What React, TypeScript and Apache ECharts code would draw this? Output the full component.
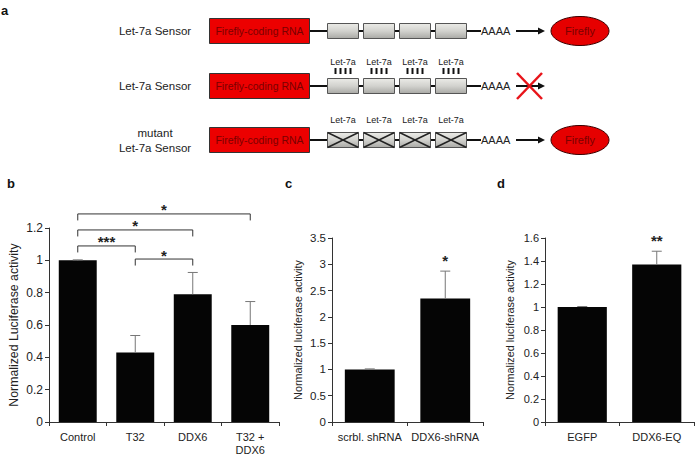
import React, { useEffect, useRef } from "react";
import * as echarts from "echarts";

// ---------- data ----------
const catsB = ["Control", "T32", "DDX6", "T32 +\nDDX6"];
const valsB = [1.0, 0.43, 0.79, 0.6];
const errsB = [0.003, 0.105, 0.135, 0.145];
const sigPairsB = [
  [0, 3],
  [0, 2],
  [0, 1],
  [1, 2],
];
const sigLevelsB = [1.287, 1.188, 1.089, 1.008];
const sigLabelsB = ["*", "*", "***", "*"];

const catsC = ["scrbl. shRNA", "DDX6-shRNA"];
const valsC = [1.0, 2.35];
const errsC = [0.01, 0.52];
const sigC = ["", "*"];

const catsD = ["EGFP", "DDX6-EQ"];
const valsD = [1.0, 1.37];
const errsD = [0.004, 0.115];
const sigD = ["", "**"];

const rowLabels = ["Let-7a Sensor", "Let-7a Sensor", "mutant\nLet-7a Sensor"];
const codingLabel = "Firefly-coding RNA";
const siteLabel = "Let-7a";
const polyA = "AAAA";
const productLabel = "Firefly";
const panelLetters = ["a", "b", "c", "d"];

const FONT = "'Liberation Sans', Arial, sans-serif";

function yAx(gridIndex: number, max: number, interval: number, name: string, nameGap: number, fontSize: number, nameSize: number) {
  return {
    type: "value",
    gridIndex,
    min: 0,
    max,
    interval,
    name,
    nameLocation: "middle",
    nameRotate: 90,
    nameGap,
    nameTextStyle: { fontFamily: FONT, fontSize: nameSize, color: "#222" },
    axisLine: { show: true, lineStyle: { color: "#333", width: 1 } },
    axisTick: { show: true, length: 4, lineStyle: { color: "#333" } },
    axisLabel: { fontFamily: FONT, fontSize, color: "#222", margin: 6 },
    splitLine: { show: false },
  };
}

function xAx(gridIndex: number, data: string[], fontSize: number) {
  return {
    type: "category",
    gridIndex,
    data,
    axisLine: { show: true, lineStyle: { color: "#333", width: 1 } },
    axisTick: { show: true, length: 4, lineStyle: { color: "#333" } },
    axisLabel: { fontFamily: FONT, fontSize, color: "#222", margin: 8, lineHeight: 13, interval: 0 },
    splitLine: { show: false },
  };
}

function errSeries(idx: number, vals: number[], errs: number[], sigs: string[], sigSize: number) {
  return {
    type: "custom",
    xAxisIndex: idx,
    yAxisIndex: idx,
    clip: false,
    z: 5,
    data: vals.map((v, i) => [i, v, errs[i]]),
    renderItem: (params: any, api: any) => {
      const i = api.value(0);
      const v = api.value(1);
      const e = api.value(2);
      const base = api.coord([i, v]);
      const top = api.coord([i, v + e]);
      const x = base[0];
      const children: any[] = [
        { type: "line", shape: { x1: x, y1: base[1], x2: x, y2: top[1] }, style: { stroke: "#777", lineWidth: 1 } },
        { type: "line", shape: { x1: x - 5, y1: top[1], x2: x + 5, y2: top[1] }, style: { stroke: "#777", lineWidth: 1 } },
      ];
      const s = sigs[params.dataIndex];
      if (s) {
        children.push({
          type: "text",
          x,
          y: top[1] - 11,
          style: { text: s, fontFamily: FONT, fontSize: sigSize, fontWeight: "bold", fill: "#222", align: "center", verticalAlign: "middle" },
        });
      }
      return { type: "group", children };
    },
  };
}

function barSeries(idx: number, vals: number[]) {
  return {
    type: "bar",
    xAxisIndex: idx,
    yAxisIndex: idx,
    data: vals,
    barWidth: "66%",
    itemStyle: { color: "#050505" },
  };
}

function diagram(): any[] {
  const els: any[] = [];
  const rowY = [31, 86, 140];
  const grayFill = new echarts.graphic.LinearGradient(0, 0, 0, 1, [
    { offset: 0, color: "#ebebe7" },
    { offset: 0.5, color: "#d2d2ce" },
    { offset: 1, color: "#a9a9a5" },
  ]);
  rowY.forEach((y, r) => {
    els.push({
      type: "text",
      x: 155,
      y,
      style: { text: rowLabels[r], fontFamily: FONT, fontSize: 11.5, fill: "#222", align: "center", verticalAlign: "middle", lineHeight: 15 },
    });
    els.push({ type: "line", shape: { x1: 309, y1: y, x2: 481, y2: y }, style: { stroke: "#111", lineWidth: 2 } });
    els.push({
      type: "rect",
      shape: { x: 209.5, y: y - 12.5, width: 100, height: 25 },
      style: { fill: "#ec0000", stroke: "#333", lineWidth: 1 },
    });
    els.push({
      type: "text",
      x: 259.5,
      y,
      style: { text: codingLabel, fontFamily: FONT, fontSize: 10.5, fill: "#7a0000", align: "center", verticalAlign: "middle" },
    });
    for (let k = 0; k < 4; k++) {
      const bx = 327 + k * 36;
      const bw = 31;
      const top = y - 7.5;
      els.push({
        type: "rect",
        shape: { x: bx + 0.5, y: top, width: bw, height: 15 },
        style: { fill: grayFill, stroke: "#555", lineWidth: 1 },
      });
      const cx = bx + bw / 2 + 0.5;
      if (r >= 1) {
        els.push({
          type: "text",
          x: cx,
          y: r === 1 ? y - 24.5 : y - 20.5,
          style: { text: siteLabel, fontFamily: FONT, fontSize: 9, fill: "#222", align: "center", verticalAlign: "middle" },
        });
      }
      if (r === 1) {
        for (let t = 0; t < 4; t++) {
          const tx = cx - 7.5 + t * 5;
          els.push({ type: "line", shape: { x1: tx, y1: y - 18, x2: tx, y2: y - 12 }, style: { stroke: "#111", lineWidth: 2 } });
        }
      }
      if (r === 2) {
        els.push({ type: "line", shape: { x1: bx + 0.5, y1: top, x2: bx + bw + 0.5, y2: top + 15 }, style: { stroke: "#222", lineWidth: 1.5 } });
        els.push({ type: "line", shape: { x1: bx + 0.5, y1: top + 15, x2: bx + bw + 0.5, y2: top }, style: { stroke: "#222", lineWidth: 1.5 } });
      }
    }
    els.push({
      type: "text",
      x: 481,
      y,
      style: { text: polyA, fontFamily: FONT, fontSize: 11, fill: "#222", align: "left", verticalAlign: "middle" },
    });
    els.push({ type: "line", shape: { x1: 516, y1: y, x2: 539, y2: y }, style: { stroke: "#111", lineWidth: 2 } });
    els.push({ type: "polygon", shape: { points: [[538, y - 3.5], [545, y], [538, y + 3.5]] }, style: { fill: "#111" } });
    if (r === 1) {
      els.push({ type: "line", shape: { x1: 517, y1: y - 13, x2: 542, y2: y + 13 }, style: { stroke: "#e8141a", lineWidth: 2.5 } });
      els.push({ type: "line", shape: { x1: 542, y1: y - 13, x2: 517, y2: y + 13 }, style: { stroke: "#e8141a", lineWidth: 2.5 } });
    } else {
      els.push({
        type: "ellipse",
        shape: { cx: 580, cy: y, rx: 29, ry: 14.5 },
        style: { fill: "#e60000", stroke: "#3a0000", lineWidth: 1 },
      });
      els.push({
        type: "text",
        x: 580,
        y,
        style: { text: productLabel, fontFamily: FONT, fontSize: 11, fill: "#7a0000", align: "center", verticalAlign: "middle" },
      });
    }
  });
  const letterPos = [
    [1, 10],
    [7, 183],
    [285, 183],
    [497, 183],
  ];
  panelLetters.forEach((l, i) => {
    els.push({
      type: "text",
      x: letterPos[i][0],
      y: letterPos[i][1],
      style: { text: l, fontFamily: FONT, fontSize: 13, fontWeight: "bold", fill: "#111", align: "left", verticalAlign: "middle" },
    });
  });
  return els;
}

export default function App() {
  const ref = useRef<HTMLDivElement>(null);
  useEffect(() => {
    if (!ref.current) return;
    const chart = echarts.init(ref.current, undefined, { renderer: "svg" });
    const option: any = {
      animation: false,
      backgroundColor: "#ffffff",
      grid: [
        { left: 49, top: 228, width: 230, height: 194 },
        { left: 332, top: 238, width: 151, height: 184 },
        { left: 545, top: 238, width: 149, height: 184 },
      ],
      xAxis: [xAx(0, catsB, 11), xAx(1, catsC, 11), xAx(2, catsD, 11)],
      yAxis: [
        yAx(0, 1.2, 0.2, "Normalized Luciferase activity", 29, 12, 12.3),
        yAx(1, 3.5, 0.5, "Normalized luciferase activity", 29, 11.5, 10.8),
        yAx(2, 1.6, 0.2, "Normalized luciferase activity", 29.5, 11, 10.8),
      ],
      series: [
        barSeries(0, valsB),
        errSeries(0, valsB, errsB, ["", "", "", ""], 14),
        {
          type: "custom",
          xAxisIndex: 0,
          yAxisIndex: 0,
          clip: false,
          z: 6,
          data: sigPairsB.map((p, k) => [p[0], p[1], sigLevelsB[k]]),
          renderItem: (params: any, api: any) => {
            const k = params.dataIndex;
            const a = api.coord([api.value(0), api.value(2)]);
            const b = api.coord([api.value(1), api.value(2)]);
            const drop = 6.5;
            return {
              type: "group",
              children: [
                {
                  type: "polyline",
                  shape: { points: [[a[0], a[1] + drop], [a[0], a[1]], [b[0], b[1]], [b[0], b[1] + drop]] },
                  style: { stroke: "#333", lineWidth: 1, fill: "none" },
                },
                {
                  type: "text",
                  x: (a[0] + b[0]) / 2,
                  y: a[1] - 4,
                  style: { text: sigLabelsB[k], fontFamily: FONT, fontSize: 15, fontWeight: "bold", fill: "#222", align: "center", verticalAlign: "middle" },
                },
              ],
            };
          },
        },
        barSeries(1, valsC),
        errSeries(1, valsC, errsC, sigC, 15),
        barSeries(2, valsD),
        errSeries(2, valsD, errsD, sigD, 15),
      ],
      graphic: diagram(),
    };
    chart.setOption(option);
    return () => chart.dispose();
  }, []);
  return <div ref={ref} style={{ position: "absolute", left: 0, top: 0, width: 695, height: 456 }} />;
}
